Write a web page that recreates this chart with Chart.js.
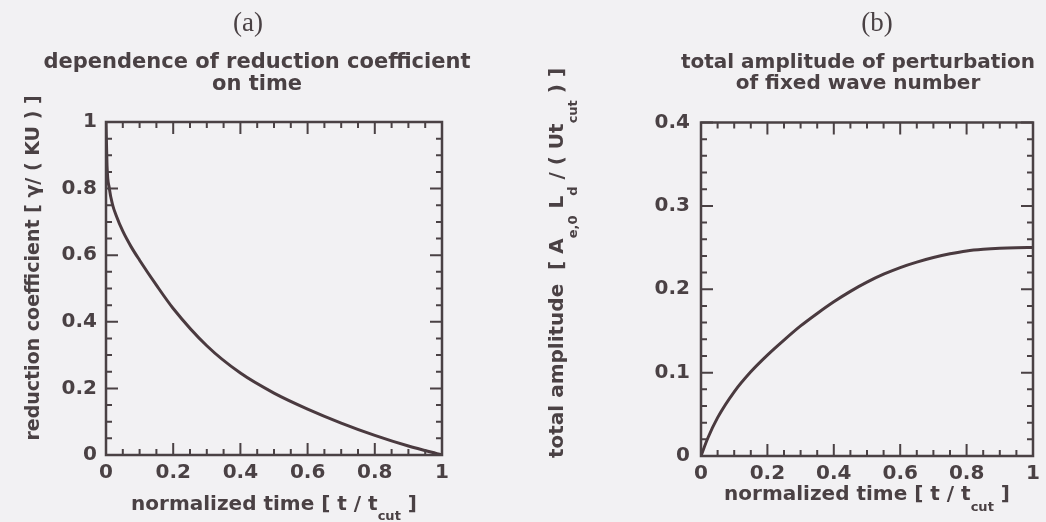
<!DOCTYPE html>
<html>
<head>
<meta charset="utf-8">
<script src="https://cdn.jsdelivr.net/npm/chart.js@4/dist/chart.umd.min.js"></script>
<style>
    html, body { margin: 0; padding: 0; background: #f2f1f3; overflow: hidden; }
    .panel { position: absolute; top: 0; width: 523px; height: 522px; }
    #panel-a { left: 0; }
    #panel-b { left: 523px; }
</style>
</head>
<body>
<div class="panel" id="panel-a"><canvas id="chart-a"></canvas></div>
<div class="panel" id="panel-b"><canvas id="chart-b"></canvas></div>
<script>
// (a) reduction coefficient vs normalized time
var timeA = [0, 0.003, 0.01, 0.02, 0.03, 0.05, 0.075, 0.1, 0.15, 0.2, 0.3, 0.4, 0.5, 0.6, 0.7, 0.8, 0.9, 1];
var coefA = [1.0, 0.87, 0.80, 0.75, 0.72, 0.672, 0.625, 0.585, 0.51, 0.44, 0.328, 0.246, 0.186, 0.138, 0.096, 0.059, 0.027, 0];

// (b) total amplitude vs normalized time
var timeB = [0, 0.02, 0.05, 0.1, 0.15, 0.2, 0.25, 0.3, 0.35, 0.4, 0.45, 0.5, 0.55, 0.6, 0.65, 0.7, 0.75, 0.8, 0.85, 0.9, 0.95, 1];
var ampB = [0, 0.021, 0.046, 0.077, 0.101, 0.121, 0.139, 0.156, 0.171, 0.185, 0.1975, 0.2085, 0.218, 0.226, 0.2325, 0.238, 0.2425, 0.246, 0.248, 0.2492, 0.2498, 0.25];

var ticksX = [0, 0.2, 0.4, 0.6, 0.8, 1];
var ticksYA = [0, 0.2, 0.4, 0.6, 0.8, 1];
var ticksYB = [0, 0.1, 0.2, 0.3, 0.4];

var INK = '#4a4144';
var LINE = '#4a3a3f';
var SANS = "'DejaVu Sans', sans-serif";

function pairs(xs, ys) {
    return xs.map(function (x, i) { return { x: x, y: ys[i] }; });
}

function fmt(v) {
    return String(+v.toFixed(2));
}

// frame + inward major/minor ticks on all four sides
var frameTicks = {
    id: 'frameTicks',
    afterDatasetsDraw: function (chart, args, o) {
        var ctx = chart.ctx, a = chart.chartArea;
        var sx = chart.scales.x, sy = chart.scales.y;
        ctx.save();
        ctx.strokeStyle = INK;
        ctx.lineWidth = 2;
        ctx.beginPath();
        var n = Math.round((sx.max - sx.min) / o.xMinor);
        for (var i = 0; i <= n; i++) {
            var px = sx.getPixelForValue(sx.min + i * o.xMinor);
            var len = (i % o.xEvery === 0) ? 12 : 6;
            ctx.moveTo(px, a.bottom); ctx.lineTo(px, a.bottom - len);
            ctx.moveTo(px, a.top); ctx.lineTo(px, a.top + len);
        }
        n = Math.round((sy.max - sy.min) / o.yMinor);
        for (i = 0; i <= n; i++) {
            var py = sy.getPixelForValue(sy.min + i * o.yMinor);
            len = (i % o.yEvery === 0) ? 12 : 6;
            ctx.moveTo(a.left, py); ctx.lineTo(a.left + len, py);
            ctx.moveTo(a.right, py); ctx.lineTo(a.right - len, py);
        }
        ctx.stroke();
        ctx.lineWidth = 2.5;
        ctx.strokeRect(a.left, a.top, a.right - a.left, a.bottom - a.top);
        ctx.restore();
    }
};

// text with subscripts: segments [{text, sub}]
function drawRich(ctx, segs, x, y, rotate, drop, size) {
    var base = 'bold ' + size + 'px ' + SANS, small = 'bold 13px ' + SANS;
    var w = 0;
    segs.forEach(function (s) { ctx.font = s.sub ? small : base; w += ctx.measureText(s.text).width; });
    ctx.save();
    ctx.translate(x, y);
    if (rotate) ctx.rotate(-Math.PI / 2);
    ctx.fillStyle = INK;
    ctx.textBaseline = 'middle';
    ctx.textAlign = 'left';
    var cx = -w / 2;
    segs.forEach(function (s) {
        ctx.font = s.sub ? small : base;
        ctx.fillText(s.text, cx, s.sub ? drop : 0);
        cx += ctx.measureText(s.text).width;
    });
    ctx.restore();
}

// panel letter, two-line heading and axis titles
var labels = {
    id: 'labels',
    afterDraw: function (chart, args, o) {
        var ctx = chart.ctx;
        ctx.save();
        ctx.fillStyle = INK;
        ctx.textAlign = 'center';
        ctx.textBaseline = 'middle';
        ctx.font = "27px 'Liberation Serif', serif";
        ctx.fillText(o.panel, o.panelX, o.panelY);
        ctx.font = 'bold ' + o.titleSize + 'px ' + SANS;
        o.title.forEach(function (t, i) { ctx.fillText(t, o.titleX, o.titleY[i]); });
        ctx.restore();
        drawRich(ctx, o.xTitle, o.xTitleX, o.xTitleY, false, o.xDrop, 20);
        drawRich(ctx, o.yTitle, o.yTitleX, o.yTitleY, true, o.yDrop, o.ySize);
    }
};

function makeChart(id, xs, ys, yMax, yTicks, cfg) {
    var ctx = document.getElementById(id).getContext('2d');
    return new Chart(ctx, {
        type: 'line',
        data: {
            datasets: [{
                data: pairs(xs, ys),
                borderColor: LINE,
                borderWidth: 3,
                pointRadius: 0,
                cubicInterpolationMode: 'monotone',
                fill: false
            }]
        },
        options: {
            responsive: true,
            maintainAspectRatio: false,
            animation: false,
            layout: { padding: cfg.padding },
            scales: {
                x: {
                    type: 'linear', min: 0, max: 1,
                    grid: { display: false, drawTicks: false },
                    border: { display: false },
                    afterBuildTicks: function (s) { s.ticks = ticksX.map(function (v) { return { value: v }; }); },
                    afterFit: function (s) { s.height = cfg.xHeight; },
                    ticks: {
                        color: INK, padding: 6, maxRotation: 0, autoSkip: false,
                        font: { family: SANS, weight: 'bold', size: 20 },
                        callback: fmt
                    }
                },
                y: {
                    min: 0, max: yMax,
                    grid: { display: false, drawTicks: false },
                    border: { display: false },
                    afterBuildTicks: function (s) { s.ticks = yTicks.map(function (v) { return { value: v }; }); },
                    afterFit: function (s) { s.width = cfg.yWidth; },
                    ticks: {
                        color: INK, padding: cfg.yPad, autoSkip: false,
                        font: { family: SANS, weight: 'bold', size: 20 },
                        callback: fmt
                    }
                }
            },
            plugins: {
                legend: { display: false },
                tooltip: { enabled: false },
                title: { display: false },
                frameTicks: cfg.ticks,
                labels: cfg.labels
            }
        },
        plugins: [frameTicks, labels]
    });
}

makeChart('chart-a', timeA, coefA, 1, ticksYA, {
    padding: { left: 0, right: 81, top: 122, bottom: 0 },
    xHeight: 67, yWidth: 106, yPad: 9,
    ticks: { xMinor: 0.05, xEvery: 4, yMinor: 0.05, yEvery: 4 },
    labels: {
        panel: '(a)', panelX: 248, panelY: 24,
        title: ['dependence of reduction coefficient', 'on time'],
        titleX: 257, titleY: [63, 85], titleSize: 21,
        xTitle: [{ text: 'normalized time [ t / t' }, { text: 'cut', sub: true }, { text: ' ]' }],
        xTitleX: 274, xTitleY: 505, xDrop: 12,
        yTitle: [{ text: 'reduction coefficient [ \u03B3/ ( KU ) ]' }],
        yTitleX: 34, yTitleY: 268, yDrop: 0, ySize: 19
    }
});

makeChart('chart-b', timeB, ampB, 0.4, ticksYB, {
    padding: { left: 0, right: 13, top: 122.5, bottom: 0 },
    xHeight: 66, yWidth: 178, yPad: 11,
    ticks: { xMinor: 0.05, xEvery: 4, yMinor: 0.02, yEvery: 5 },
    labels: {
        panel: '(b)', panelX: 354, panelY: 24,
        title: ['total amplitude of perturbation', 'of fixed wave number'],
        titleX: 335, titleY: [63, 84], titleSize: 20,
        xTitle: [{ text: 'normalized time [ t / t' }, { text: 'cut', sub: true }, { text: ' ]' }],
        xTitleX: 344, xTitleY: 495, xDrop: 13,
        yTitle: [
            { text: 'total amplitude  [ A' }, { text: 'e,0', sub: true },
            { text: ' L' }, { text: 'd', sub: true },
            { text: ' / ( Ut' }, { text: 'cut', sub: true }, { text: ' ) ]' }
        ],
        yTitleX: 35, yTitleY: 263, yDrop: 16, ySize: 20
    }
});
</script>
</body>
</html>
